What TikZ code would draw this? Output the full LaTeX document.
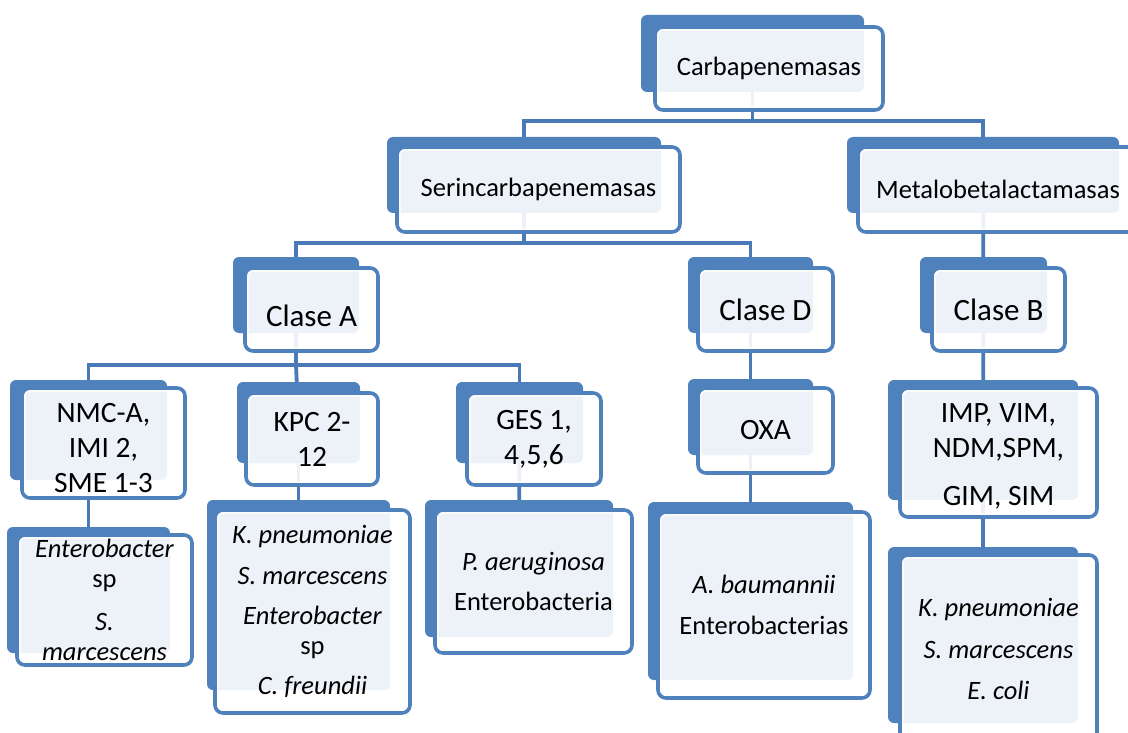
\documentclass[tikz,border=0pt]{standalone}
\usepackage{fontspec}
\setmainfont{Carlito}
\usetikzlibrary{calc}
\pgfdeclarelayer{background}
\pgfsetlayers{background,main}
\definecolor{bx}{HTML}{4F81BD}
\definecolor{ln}{HTML}{4979B6}
\begin{document}
\begin{tikzpicture}[x=1pt,y=-1pt,
 backbox/.style={fill=bx, rounded corners=6pt, inner sep=0pt, outer sep=0pt},
 frontbox/.style={draw=bx, line width=3.6pt, rounded corners=8pt, fill=white, fill opacity=0.9, text opacity=1, inner sep=0pt, outer sep=0pt, align=center, text=black,
   path picture={\draw[white, line width=1.2pt, rounded corners=5pt] ([shift={(3pt,3pt)}]path picture bounding box.south west) rectangle ([shift={(-3pt,-3pt)}]path picture bounding box.north east);}},
 txt/.style={align=center, text=black, inner sep=0pt},
 conn/.style={draw=ln, line width=3.8pt},
 fa/.style={font=\fontsize{26.5}{29.5}\selectfont},
 fb/.style={font=\fontsize{31}{36}\selectfont},
 fc/.style={font=\fontsize{29.5}{35}\selectfont}
]
\useasboundingbox (0,0) rectangle (1128,733);
\clip (0,0) rectangle (1128,733);

% level 1
\node[backbox, minimum width=223pt, minimum height=77pt] (carbB) at (752.5,53.5) {};
\node[frontbox, fa, minimum width=228pt, minimum height=83pt] (carb) at (769,68.5) {Carbapenemasas};

% level 2
\node[backbox, minimum width=274pt, minimum height=76pt] (serB) at (524,175) {};
\node[frontbox, fa, minimum width=283pt, minimum height=85pt] (ser) at (538.5,189.5) {Serincarbapenemasas};
\node[backbox, minimum width=272pt, minimum height=76pt] (metB) at (983,175) {};
\node[frontbox, fa, minimum width=280pt, minimum height=85pt] (met) at (998,189.5) {Metalobetalactamasas};

% level 3
\node[backbox, minimum width=126pt, minimum height=76pt] (caB) at (296,295) {};
\node[frontbox, minimum width=133pt, minimum height=83pt] (ca) at (311.5,309.5) {};
\node[txt, fb, yshift=-6pt] (caT) at (ca.center) {Clase A};
\node[backbox, minimum width=125pt, minimum height=76pt] (cdB) at (750.5,295) {};
\node[frontbox, fb, minimum width=135pt, minimum height=83pt] (cd) at (765.5,309.5) {Clase D};
\node[backbox, minimum width=127pt, minimum height=76pt] (cbB) at (983.5,295) {};
\node[frontbox, fb, minimum width=133pt, minimum height=83pt] (cb) at (998.5,309.5) {Clase B};

% level 4
\node[backbox, minimum width=157pt, minimum height=100pt] (nmcB) at (88.5,430) {};
\node[frontbox, minimum width=163pt, minimum height=110pt] (nmc) at (103.5,443) {};
\node[txt, fc, yshift=-5pt] (nmcT) at (nmc.center) {NMC-A,\\IMI 2,\\SME 1-3};
\node[backbox, minimum width=123pt, minimum height=81pt] (kpcB) at (298.5,422.5) {};
\node[frontbox, fc, minimum width=132pt, minimum height=92pt] (kpc) at (312,439) {KPC 2-\\12};
\node[backbox, minimum width=127pt, minimum height=81pt] (gesB) at (519.5,422.5) {};
\node[frontbox, fc, minimum width=134pt, minimum height=92pt] (ges) at (534,439) {GES 1,\\4,5,6};
\node[backbox, minimum width=125pt, minimum height=76pt] (oxaB) at (750.5,417) {};
\node[frontbox, fc, minimum width=135pt, minimum height=85pt] (oxa) at (765.5,430.5) {OXA};
\node[backbox, minimum width=190pt, minimum height=120pt] (impB) at (983,440) {};
\node[frontbox, minimum width=197pt, minimum height=129pt] (imp) at (998.5,452.5) {};
\node[txt, fc, yshift=-4pt] (impT) at (imp.center) {IMP, VIM,\\NDM,SPM,\\[13pt]GIM, SIM};

% level 5
\node[backbox, minimum width=163pt, minimum height=126pt] (e1B) at (88.5,590) {};
\node[frontbox, fa, minimum width=175pt, minimum height=130pt] (e1) at (104.5,600) {\textit{Enterobacter}\\sp\\[14pt]\textit{S.}\\\textit{marcescens}};
\node[backbox, minimum width=183pt, minimum height=190pt] (e2B) at (298.5,595) {};
\node[frontbox, fa, minimum width=195pt, minimum height=203pt] (e2) at (312.5,611.5) {\textit{K. pneumoniae}\\[11pt]\textit{S. marcescens}\\[11pt]\textit{Enterobacter}\\sp\\[11pt]\textit{C. freundii}};
\node[backbox, minimum width=188pt, minimum height=137pt] (e3B) at (519,568.5) {};
\node[frontbox, fa, minimum width=197pt, minimum height=143pt] (e3) at (533.5,581.5) {\textit{P. aeruginosa}\\[11pt]Enterobacteria};
\node[backbox, minimum width=205pt, minimum height=178pt] (e4B) at (750.5,591) {};
\node[frontbox, fa, minimum width=212pt, minimum height=186pt] (e4) at (764,605) {\textit{A. baumannii}\\[12pt]Enterobacterias};
\node[backbox, minimum width=190pt, minimum height=176pt] (e5B) at (983,635) {};
\node[frontbox, fa, minimum width=197pt, minimum height=188pt] (e5) at (998.5,649) {\textit{K. pneumoniae}\\[12pt]\textit{S. marcescens}\\[12pt]\textit{E. coli}};

% connectors
\begin{pgfonlayer}{background}
\fill[white] (0,0) rectangle (1128,733);
\coordinate (j1) at (752.5,121);
\coordinate (j2) at (524,243);
\coordinate (j3) at (296,365);
\draw[conn] (carbB.center) -- (j1) -| (serB.center);
\draw[conn] (j1) -| (metB.center);
\draw[conn] (serB.center) -- (j2) -| (caB.center);
\draw[conn] (j2) -| (cdB.center);
\draw[conn] (metB.center) -- (cbB.center);
\draw[conn] (caB.center) -- (j3) -| (nmcB.center);
\draw[conn] (j3) -| (gesB.center);
\draw[conn] (j3) -- (kpcB.center);
\draw[conn] (cdB.center) -- (oxaB.center);
\draw[conn] (cbB.center) -- (impB.center);
\draw[conn] (nmcB.center) -- (e1B.center);
\draw[conn] (kpcB.center) -- (e2B.center);
\draw[conn] (gesB.center) -- (e3B.center);
\draw[conn] (oxaB.center) -- (e4B.center);
\draw[conn] (impB.center) -- (e5B.center);
\end{pgfonlayer}
\end{tikzpicture}
\end{document}
